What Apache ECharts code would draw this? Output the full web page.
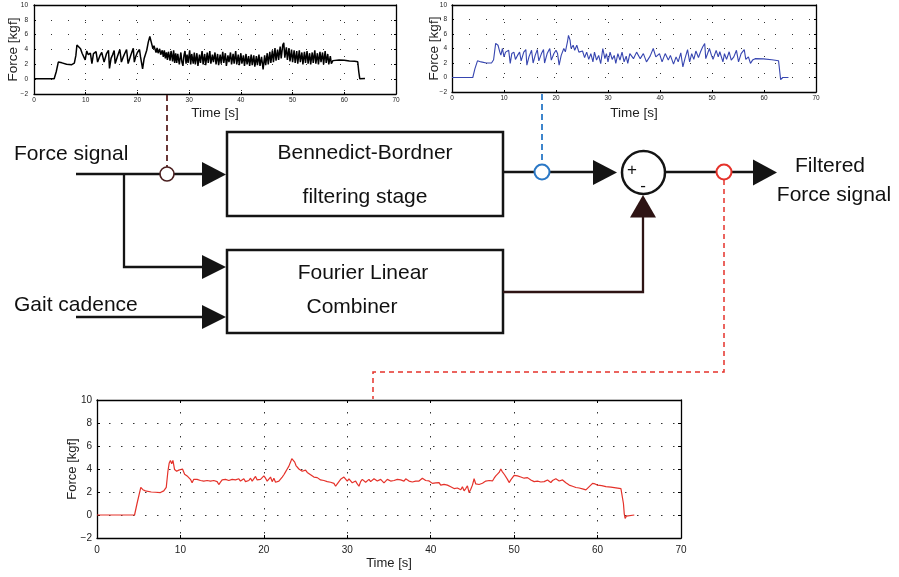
<!DOCTYPE html>
<html>
<head>
<meta charset="utf-8">
<script src="https://cdn.jsdelivr.net/npm/echarts@6/dist/echarts.min.js"></script>
<style>
  html, body { margin: 0; padding: 0; background: #fff; }
  #chart { width: 899px; height: 577px; }
</style>
</head>
<body>
<div id="chart"></div>
<script>
// Axis ranges shared by the three force plots
const timeAxis = { min: 0, max: 70, step: 10 };
const forceAxis = { min: -2, max: 10, step: 2 };

// Raw force signal [time s, force kgf]
const rawForce = [
  [0,0.05],[3.9,0.05],[4.3,1.0],[4.7,2.3],[5.0,2.35],[5.4,2.2],[6.3,2.0],[7.3,1.95],[7.8,2.15],[8.1,3.2],
  [8.3,4.6],[8.6,4.7],[9.0,4.1],[9.3,3.5],[9.6,3.7],[9.9,2.6],[10.2,3.8],[10.5,3.3],[10.7,3.1],[10.9,3.5],
  [11.2,2.1],[11.5,3.45],[11.8,3.4],[12.0,3.7],[12.3,2.3],[12.8,3.25],[13.1,3.6],[13.3,3.85],[13.55,2.3],[14.0,3.4],
  [14.4,3.9],[14.6,1.45],[14.9,2.8],[15.2,3.3],[15.5,3.85],[15.7,2.1],[16.1,3.0],[16.4,3.6],[16.6,4.0],[16.9,2.3],
  [17.2,2.9],[17.5,3.4],[17.9,4.0],[18.2,2.1],[18.7,3.2],[19.0,3.8],[19.2,4.15],[19.4,2.3],[19.7,3.1],[20.0,3.6],
  [20.4,4.0],[20.6,3.0],[21.0,1.4],[21.3,2.8],[21.5,2.8],[21.8,3.9],[22.1,5.0],[22.4,5.75],[22.6,5.2],[22.8,5.4],
  [23.0,4.1],[23.2,4.5],[23.4,4.35],[23.6,3.6],[23.8,4.2],[24.0,3.5],[24.3,4.1],[24.5,3.3],[24.8,3.9],[25.0,3.0],
  [25.2,3.9],[25.4,2.8],[25.6,3.6],[25.8,2.6],[26.0,3.7],[26.3,2.5],[26.5,3.8],[26.8,2.4],[27.0,3.9],[27.2,2.2],
  [27.4,3.5],[27.6,2.2],[27.8,3.4],[28.1,2.0],[28.4,3.6],[28.6,2.3],[28.8,1.8],[29.0,3.2],[29.2,3.8],[29.4,2.1],
  [29.6,3.3],[29.8,2.2],[30.1,3.9],[30.3,2.0],[30.5,3.4],[30.8,2.1],[31.0,3.6],[31.2,2.0],[31.5,3.5],[31.7,1.8],
  [32.0,3.3],[32.2,2.2],[32.5,3.8],[32.7,2.0],[33.0,3.4],[33.2,1.9],[33.5,3.6],[33.7,2.2],[34.0,3.8],[34.2,2.1],
  [34.5,3.3],[34.7,2.3],[35.0,3.6],[35.2,2.0],[35.5,3.4],[35.7,1.9],[36.0,3.3],[36.2,2.1],[36.5,3.7],[36.7,2.2],
  [37.0,3.5],[37.2,1.8],[37.5,3.2],[37.7,2.3],[38.0,3.6],[38.2,2.0],[38.5,3.4],[38.7,2.1],[39.0,3.8],[39.2,2.0],
  [39.5,3.3],[39.7,1.9],[40.0,3.5],[40.2,2.1],[40.5,3.2],[40.7,1.8],[41.0,3.4],[41.2,2.0],[41.5,3.1],[41.7,1.8],
  [42.0,3.3],[42.2,1.9],[42.5,3.2],[42.7,1.7],[43.0,3.1],[43.2,1.9],[43.5,3.3],[43.7,1.8],[44.0,3.0],[44.3,1.3],
  [44.6,3.2],[44.8,1.9],[45.1,3.5],[45.3,2.0],[45.6,3.7],[45.8,2.2],[46.1,3.9],[46.3,2.3],[46.6,4.2],[46.8,2.5],
  [47.1,4.0],[47.3,2.6],[47.6,4.4],[47.8,2.8],[48.1,4.6],[48.3,4.9],[48.5,2.9],[48.8,4.3],[49.0,2.6],[49.3,4.2],
  [49.5,2.4],[49.8,4.0],[50.0,2.3],[50.3,3.9],[50.5,2.2],[50.8,3.8],[51.0,2.1],[51.3,3.9],[51.5,2.3],[51.8,3.6],
  [52.0,2.0],[52.3,3.7],[52.5,2.2],[52.8,3.8],[53.0,2.1],[53.3,3.5],[53.5,2.0],[53.8,3.6],[54.0,2.2],[54.3,3.9],
  [54.5,2.1],[54.8,3.5],[55.0,2.0],[55.3,3.7],[55.5,2.3],[55.8,3.6],[56.0,2.0],[56.3,3.8],[56.5,2.2],[56.8,3.4],
  [57.0,2.0],[57.3,3.1],[57.5,2.1],[57.8,2.5],[58.1,2.65],[59.0,2.6],[60.0,2.55],[61.0,2.45],[62.0,2.4],[62.6,2.35],
  [62.8,1.0],[63.0,0.05],[64.0,0.1]
];

// Output of the Bennedict-Bordner filtering stage [time s, force kgf]
const bbForce = [
  [0,0],[4.0,0],[4.4,1.2],[4.9,2.3],[5.2,2.35],[5.6,2.15],[6.6,2.0],[7.6,2.0],[8.0,2.45],[8.2,3.6],
  [8.4,4.7],[8.6,4.55],[8.85,4.45],[9.2,3.5],[9.4,3.1],[9.7,4.0],[10.0,2.85],[10.3,3.5],[10.6,3.3],[10.9,3.75],
  [11.2,1.95],[11.5,3.3],[11.9,3.5],[12.2,2.5],[12.6,3.05],[13.0,3.5],[13.3,2.3],[13.8,3.5],[14.2,3.85],[14.4,1.7],
  [14.8,2.85],[15.3,3.75],[15.6,2.0],[16.0,3.05],[16.4,3.85],[16.7,2.3],[17.2,3.3],[17.6,3.85],[17.8,2.0],[18.3,3.3],
  [18.8,4.0],[19.1,2.4],[19.6,3.3],[20.0,3.75],[20.3,3.3],[20.6,1.7],[21.0,3.05],[21.5,4.0],[21.8,3.55],[22.2,4.9],
  [22.4,5.8],[22.7,5.15],[22.9,4.0],[23.3,4.45],[23.6,3.75],[24.0,4.45],[24.4,3.5],[24.7,3.3],[25.1,3.65],[25.5,2.75],
  [25.9,3.5],[26.3,2.5],[26.7,3.3],[27.1,2.15],[27.4,3.5],[27.8,2.4],[28.2,3.05],[28.6,1.9],[29.0,4.0],[29.4,2.6],
  [29.7,3.3],[30.0,2.15],[30.4,3.5],[30.8,2.5],[31.2,3.05],[31.5,1.95],[31.9,3.3],[32.3,2.4],[32.7,3.5],[33.1,2.15],
  [33.5,2.95],[33.8,1.95],[34.2,3.3],[34.9,2.6],[35.5,3.5],[36.2,2.6],[36.8,3.3],[37.4,2.15],[38.1,2.95],[38.7,4.0],
  [39.2,2.85],[39.9,3.3],[40.4,2.15],[41.0,3.3],[41.6,2.4],[42.0,3.05],[42.6,1.85],[43.1,2.85],[43.5,2.15],[44.0,3.4],
  [44.4,1.45],[44.8,2.6],[45.3,3.85],[45.7,2.15],[46.1,3.3],[46.5,2.5],[46.9,3.65],[47.4,2.75],[47.8,3.55],[48.2,4.2],
  [48.6,4.7],[48.8,2.6],[49.1,2.85],[49.5,4.0],[49.9,3.05],[50.2,2.5],[50.8,3.75],[51.2,2.85],[51.5,3.55],[52.1,2.15],
  [52.4,3.3],[52.8,2.5],[53.3,3.55],[53.7,2.4],[54.2,2.85],[54.7,3.75],[55.1,2.15],[55.6,3.3],[56.2,3.85],[56.5,2.5],
  [57.0,2.85],[57.4,1.95],[57.8,2.4],[58.3,2.6],[59.9,2.57],[61.5,2.45],[62.8,2.3],[63.0,1.0],[63.2,-0.3],[63.6,0],
  [64.7,0]
];

// Filtered force signal after subtracting the Fourier Linear Combiner estimate
const filteredForce = [
  [0,0],[4.5,0],[4.8,1.0],[5.25,2.4],[5.5,2.2],[5.8,2.1],[6.5,2.0],[7.0,1.98],[7.6,1.95],[8.0,2.1],
  [8.3,2.4],[8.5,3.8],[8.65,4.5],[8.8,4.75],[8.95,4.45],[9.1,4.75],[9.3,3.95],[9.55,3.8],[9.8,3.9],[10.0,3.95],
  [10.25,4.0],[10.5,3.55],[10.8,3.4],[11.0,3.3],[11.2,3.1],[11.4,2.8],[11.6,3.1],[11.8,3.25],[12.0,3.1],[12.2,3.15],
  [12.4,3.0],[12.6,3.1],[12.8,2.95],[13.0,2.85],[13.2,3.0],[13.4,3.1],[13.6,2.95],[13.8,2.95],[14.0,3.0],[14.2,3.05],
  [14.4,2.9],[14.6,2.65],[14.8,2.85],[15.0,3.05],[15.2,2.95],[15.4,3.1],[15.6,2.95],[15.8,3.0],[16.0,2.9],[16.2,3.1],
  [16.4,2.95],[16.6,3.05],[16.8,2.9],[17.0,3.15],[17.2,2.95],[17.4,3.0],[17.6,3.15],[17.8,2.9],[18.0,3.05],[18.2,3.0],
  [18.4,3.2],[18.6,2.95],[18.8,3.1],[19.0,3.35],[19.2,3.05],[19.4,2.95],[19.6,3.1],[19.8,3.0],[20.0,3.4],[20.2,3.2],
  [20.4,2.95],[20.6,3.1],[20.8,3.3],[21.0,2.9],[21.2,3.2],[21.4,2.85],[21.6,3.0],[21.8,2.95],[22.0,3.1],[22.2,3.3],
  [22.4,3.5],[22.6,3.75],[22.8,4.0],[23.0,4.25],[23.2,4.6],[23.35,4.9],[23.5,4.75],[23.7,4.6],[23.85,4.3],[24.0,4.2],
  [24.2,4.0],[24.4,3.85],[24.6,3.8],[24.8,3.95],[25.0,3.9],[25.2,3.7],[25.4,3.7],[25.6,3.5],[25.8,3.45],[26.0,3.3],
  [26.2,3.2],[26.4,3.25],[26.6,3.1],[26.8,3.05],[27.0,2.95],[27.2,3.0],[27.4,2.85],[27.6,2.9],[27.8,2.8],[28.0,2.85],
  [28.2,2.7],[28.4,2.75],[28.6,2.5],[28.8,2.7],[29.0,2.85],[29.2,3.1],[29.4,3.15],[29.6,3.3],[29.8,3.45],[30.0,2.95],
  [30.2,3.15],[30.4,3.0],[30.6,2.8],[30.8,2.95],[31.0,2.95],[31.2,2.7],[31.4,2.5],[31.6,2.9],[31.8,3.1],[32.0,3.0],
  [32.2,2.85],[32.4,2.95],[32.6,3.1],[32.8,2.9],[33.0,2.95],[33.2,3.15],[33.4,3.15],[33.6,2.95],[33.8,2.95],[34.0,3.1],
  [34.2,3.05],[34.4,2.8],[34.6,2.9],[34.8,3.1],[35.0,3.15],[35.2,2.95],[35.4,3.1],[35.6,3.0],[35.8,2.95],[36.0,3.1],
  [36.2,2.95],[36.4,3.05],[36.6,3.1],[36.8,2.95],[37.0,3.15],[37.2,3.0],[37.4,2.95],[37.6,3.1],[37.8,2.87],[38.0,3.0],
  [38.2,2.95],[38.4,3.05],[38.6,2.95],[38.8,3.1],[39.0,3.2],[39.2,3.25],[39.4,3.0],[39.6,2.95],[39.8,2.96],[40.0,2.8],
  [40.2,2.75],[40.4,2.65],[40.6,2.8],[40.8,2.75],[41.0,2.82],[41.2,2.6],[41.4,2.7],[41.6,2.67],[41.8,2.55],[42.0,2.6],
  [42.2,2.53],[42.4,2.45],[42.6,2.5],[42.8,2.3],[43.0,2.45],[43.2,2.35],[43.4,2.4],[43.6,2.2],[43.8,2.45],[44.0,2.1],
  [44.2,2.3],[44.4,2.53],[44.6,1.95],[44.8,2.24],[45.0,2.6],[45.2,3.15],[45.4,2.7],[45.6,2.53],[45.8,2.65],[46.0,2.7],
  [46.2,2.76],[46.4,2.85],[46.6,2.95],[46.8,3.1],[47.0,3.0],[47.2,3.05],[47.4,2.96],[47.6,3.2],[47.8,3.4],[48.0,3.55],
  [48.2,3.7],[48.4,4.0],[48.55,3.8],[48.7,3.82],[48.85,3.5],[49.0,3.33],[49.2,3.1],[49.4,2.82],[49.6,3.05],[49.8,3.25],
  [50.0,3.45],[50.2,3.53],[50.4,3.4],[50.6,3.39],[50.8,3.3],[51.0,3.45],[51.2,3.2],[51.4,3.1],[51.6,3.25],[51.8,3.33],
  [52.0,3.05],[52.2,2.96],[52.4,2.9],[52.6,2.82],[52.8,2.95],[53.0,2.85],[53.2,2.87],[53.4,3.0],[53.6,2.9],[53.8,2.96],
  [54.0,3.05],[54.2,2.9],[54.4,2.82],[54.6,3.0],[54.8,3.1],[55.0,3.16],[55.2,3.0],[55.4,2.96],[55.6,3.1],[55.8,3.05],
  [56.0,2.9],[56.2,2.8],[56.4,2.76],[56.6,2.6],[56.8,2.53],[57.0,2.5],[57.4,2.39],[57.8,2.35],[58.0,2.3],[58.3,2.25],
  [58.6,2.18],[58.8,2.3],[59.0,2.47],[59.4,2.75],[59.7,2.7],[60.0,2.6],[60.5,2.55],[61.0,2.47],[61.6,2.42],[62.2,2.36],
  [62.8,2.3],[62.95,2.15],[63.1,1.0],[63.2,0.1],[63.3,-0.3],[63.45,-0.1],[63.6,0.0],[64.4,0.0]
];

// Axis titles and block-diagram labels
const timeTitle = 'Time [s]';
const forceTitle = 'Force [kgf]';
const blockLabels = {
  input: 'Force signal',
  cadence: 'Gait cadence',
  bb1: 'Bennedict-Bordner',
  bb2: 'filtering stage',
  flc1: 'Fourier Linear',
  flc2: 'Combiner',
  out1: 'Filtered',
  out2: 'Force signal'
};

const FONT = '"Liberation Sans", Arial, Helvetica, sans-serif';

// Layout and look of each plot panel
const panels = [
  { grid: { left: 34, top: 5, width: 362, height: 89 }, color: '#000000', width: 1.5, data: rawForce,
    tick: 6.5, name: 13.5, xGap: 12, yGap: 14, xLabelMargin: 3, yLabelMargin: 6, dot: [1, 16], tickLen: 2 },
  { grid: { left: 452, top: 5, width: 364, height: 87 }, color: '#3645b0', width: 1.1, data: bbForce,
    tick: 6.5, name: 13.5, xGap: 14, yGap: 11, xLabelMargin: 3, yLabelMargin: 5, dot: [1, 16], tickLen: 2 },
  { grid: { left: 97, top: 400, width: 584, height: 138 }, color: '#e5322a', width: 1.2, data: filteredForce,
    tick: 10, name: 13, xGap: 19, yGap: 18.5, xLabelMargin: 7, yLabelMargin: 5, dot: [1.5, 10.5], tickLen: 3 }
];

const signed = v => (v < 0 ? '\u2212' + Math.abs(v) : String(v));

const grids = [], xAxes = [], yAxes = [], series = [];
panels.forEach((p, i) => {
  grids.push(Object.assign({ containLabel: false }, p.grid));
  const common = {
    gridIndex: i,
    type: 'value',
    axisLine: { show: true, onZero: false, lineStyle: { color: '#000', width: 1.3 } },
    axisTick: { show: true, inside: true, length: p.tickLen, lineStyle: { color: '#000', width: 1 } }
  };
  xAxes.push(Object.assign({}, common, {
    position: 'bottom', min: timeAxis.min, max: timeAxis.max, interval: timeAxis.step,
    axisLabel: { fontSize: p.tick, color: '#222', margin: p.xLabelMargin, fontFamily: FONT, formatter: signed },
    splitLine: { show: true, lineStyle: { color: '#333', width: 1, type: p.dot } },
    name: timeTitle, nameLocation: 'middle', nameGap: p.xGap, nameMoveOverlap: false,
    nameTextStyle: { fontSize: p.name, color: '#222', fontFamily: FONT }
  }));
  yAxes.push(Object.assign({}, common, {
    position: 'left', min: forceAxis.min, max: forceAxis.max, interval: forceAxis.step,
    axisLabel: { fontSize: p.tick, color: '#222', margin: p.yLabelMargin, fontFamily: FONT, formatter: signed },
    splitLine: { show: true, lineStyle: { color: '#333', width: 1, type: p.dot } },
    name: forceTitle, nameLocation: 'middle', nameGap: p.yGap, nameMoveOverlap: false,
    nameTextStyle: { fontSize: p.name, color: '#222', fontFamily: FONT }
  }));
  series.push({
    type: 'line', xAxisIndex: i, yAxisIndex: i, data: p.data,
    showSymbol: false, symbol: 'none', smooth: false,
    lineStyle: { color: p.color, width: p.width }, z: 3
  });
});
// Mirrored axes closing each plot box (ticks only)
panels.forEach((p, i) => {
  const mirror = {
    gridIndex: i, type: 'value',
    axisLine: { show: true, onZero: false, lineStyle: { color: '#000', width: 1.3 } },
    axisTick: { show: true, inside: true, length: p.tickLen, lineStyle: { color: '#000', width: 1 } },
    axisLabel: { show: false }, splitLine: { show: false }
  };
  xAxes.push(Object.assign({}, mirror, { position: 'top', min: timeAxis.min, max: timeAxis.max, interval: timeAxis.step }));
  yAxes.push(Object.assign({}, mirror, { position: 'right', min: forceAxis.min, max: forceAxis.max, interval: forceAxis.step }));
});

// Block diagram
const INK = '#141414';
const BROWN = '#2e1414';
const BLUE = '#2a78c6';
const RED = '#e5322a';
const lw = 2.3;

function line(points, stroke, width, dash) {
  return { type: 'polyline', shape: { points }, style: { stroke, lineWidth: width, fill: null, lineDash: dash || null }, z: 10 };
}
function arrow(points, fill) {
  return { type: 'polygon', shape: { points }, style: { fill }, z: 11 };
}
function ring(cx, cy, r, stroke, width) {
  return { type: 'circle', shape: { cx, cy, r }, style: { fill: '#fff', stroke, lineWidth: width }, z: 12 };
}
function label(text, x, y, size, align) {
  return { type: 'text', x, y, style: { text, fontSize: size, fontFamily: FONT, fill: '#111', textAlign: align || 'center', textVerticalAlign: 'middle' }, z: 12 };
}
function box(x, y, w, h) {
  return { type: 'rect', shape: { x, y, width: w, height: h }, style: { fill: null, stroke: INK, lineWidth: 2.5 }, z: 10 };
}

const diagram = [
  // probes to the plots
  line([[167, 95], [167, 167]], '#5a2323', 1.8, [6, 4]),
  line([[542, 94], [542, 164]], BLUE, 1.8, [6, 4]),
  line([[724, 180], [724, 372], [373, 372], [373, 399]], RED, 1.5, [5, 4]),
  // input paths
  line([[76, 174], [205, 174]], INK, lw),
  line([[124, 174], [124, 267], [205, 267]], INK, lw),
  line([[76, 317], [205, 317]], INK, lw),
  arrow([[202, 162], [226, 174.5], [202, 187]], INK),
  arrow([[202, 255], [226, 267], [202, 279]], INK),
  arrow([[202, 305], [226, 317], [202, 329]], INK),
  box(227, 132, 276, 84),
  box(227, 250, 276, 83),
  // filter stage to summing junction
  line([[503, 172], [597, 172]], INK, lw),
  arrow([[593, 160], [617, 172.5], [593, 185]], INK),
  // combiner estimate into the negative input
  line([[503, 292], [643, 292], [643, 214]], BROWN, lw),
  arrow([[630, 217.5], [643, 195], [656, 217.5]], BROWN),
  // summing junction and output
  line([[666, 172], [757, 172]], INK, lw),
  arrow([[753, 159.5], [777, 172.5], [753, 185.5]], INK),
  { type: 'circle', shape: { cx: 643.5, cy: 172.5, r: 21.5 }, style: { fill: '#fff', stroke: INK, lineWidth: 2.5 }, z: 11 },
  label('+', 632, 170, 17),
  label('-', 643, 186, 17),
  ring(167, 174, 7, '#4a1f1f', 1.6),
  ring(542, 172, 7.5, BLUE, 2),
  ring(724, 172, 7.5, RED, 2),
  // labels
  label(blockLabels.input, 14, 154, 21, 'left'),
  label(blockLabels.cadence, 14, 305, 21, 'left'),
  label(blockLabels.bb1, 365, 153, 21),
  label(blockLabels.bb2, 365, 197, 21),
  label(blockLabels.flc1, 363, 273, 21),
  label(blockLabels.flc2, 352, 307, 21),
  label(blockLabels.out1, 830, 166, 21),
  label(blockLabels.out2, 834, 195, 21)
];

const chart = echarts.init(document.getElementById('chart'), null, { renderer: 'canvas' });
chart.setOption({
  animation: false,
  backgroundColor: '#ffffff',
  grid: grids,
  xAxis: xAxes,
  yAxis: yAxes,
  series: series,
  graphic: { elements: diagram }
});
</script>
</body>
</html>
